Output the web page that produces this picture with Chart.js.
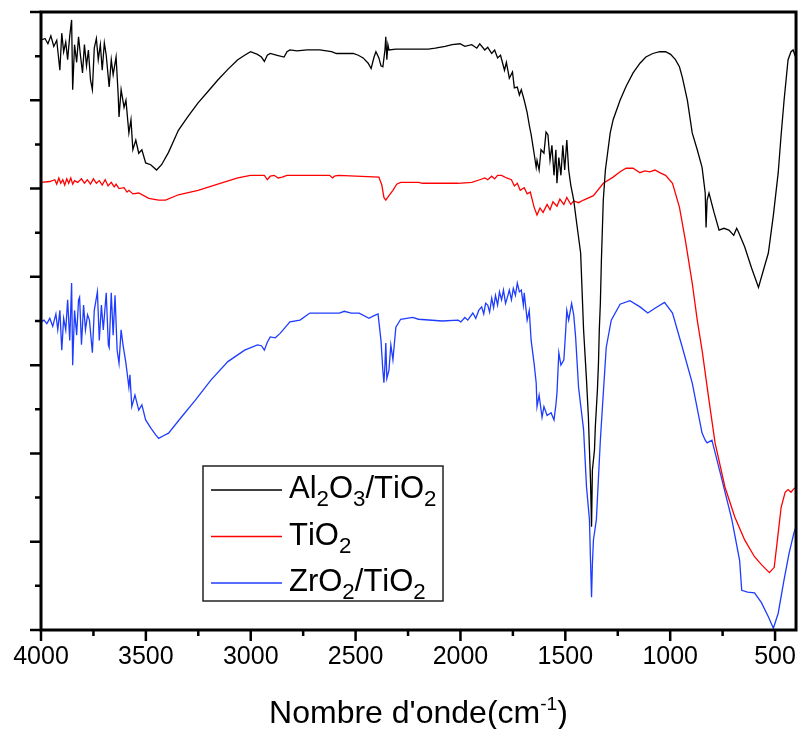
<!DOCTYPE html>
<html>
<head>
<meta charset="utf-8">
<script src="https://cdn.jsdelivr.net/npm/chart.js@4.4.1/dist/chart.umd.min.js"></script>
<style>
  html, body { margin: 0; padding: 0; background: #fff; }
</style>
</head>
<body>
<canvas id="grafico" width="808" height="729"></canvas>
<script>
// Legenda e eixos
const rotulos = ["Al2O3/TiO2", "TiO2", "ZrO2/TiO2"];
const cores = ["#000000", "#ff0000", "#1e3cff"];
const ticksX = [4000, 3500, 3000, 2500, 2000, 1500, 1000, 500];
const ticksXMenores = [3750, 3250, 2750, 2250, 1750, 1250, 750];
const ticksY = [0, 10, 20, 30, 40, 50, 60, 70];
const ticksYMenores = [5, 15, 25, 35, 45, 55, 65];
const tituloX = "Nombre d'onde(cm";
const tituloXExpoente = "-1";

// Al2O3/TiO2 (preto)
const alOnda = [
  4000,3981,3967,3953,3939,3925,3910,3901,3892,3882,
  3873,3863,3854,3849,3840,3830,3821,3812,3802,3793,
  3783,3774,3764,3755,3746,3736,3727,3717,3708,3698,
  3689,3675,3665,3656,3642,3632,3628,3618,3604,3595,
  3581,3571,3562,3548,3534,3519,3501,3477,3449,3425,
  3392,3345,3298,3251,3204,3157,3109,3062,3029,3001,
  2968,2949,2935,2921,2907,2874,2841,2827,2813,2780,
  2732,2671,2615,2591,2511,2487,2464,2440,2426,2412,
  2403,2389,2379,2370,2360,2356,2351,2346,2341,2308,
  2153,2120,2073,2040,2002,1979,1946,1922,1908,1884,
  1870,1851,1837,1823,1809,1790,1781,1767,1752,1743,
  1729,1719,1710,1696,1682,1672,1663,1649,1639,1635,
  1625,1616,1602,1592,1583,1573,1564,1554,1545,1540,
  1531,1521,1512,1503,1493,1484,1474,1460,1446,1427,
  1422,1413,1399,1390,1385,1380,1375,1371,1361,1357,
  1347,1342,1338,1333,1328,1319,1309,1286,1272,1239,
  1210,1177,1144,1116,1083,1050,1022,998,975,956,
  942,918,895,871,848,833,829,824,815,791,
  767,744,720,697,683,673,659,645,612,579,
  555,532,508,485,471,457,438,424,414,405,
  400
];
const alTrans = [
  66.8,67.0,66.4,67.3,66.1,66.8,63.4,67.6,65.5,66.6,
  64.6,67.3,69.1,61.2,66.3,64.3,67.2,65.1,63.1,66.3,
  63.9,65.7,62.3,61.2,65.9,67.0,64.6,66.3,63.4,66.5,
  65.1,61.5,64.6,62.9,64.9,60.6,58.1,61.2,59.2,60.0,
  56.3,57.8,54.4,55.5,54.0,54.4,52.9,52.7,52.1,52.7,
  54.1,56.6,58.2,59.7,61.0,62.3,63.5,64.6,65.1,65.5,
  65.2,64.9,64.4,65.1,65.3,65.1,64.9,65.5,65.7,65.6,
  65.7,65.7,65.5,65.3,65.3,65.1,64.8,64.2,63.6,64.9,
  65.5,64.8,63.9,63.8,65.7,67.2,64.6,66.3,65.7,65.8,
  65.8,65.9,66.1,66.3,66.4,66.1,66.3,65.9,66.4,65.7,
  66.0,65.3,65.7,64.8,65.1,63.4,64.3,62.5,63.2,61.4,
  61.5,60.6,61.2,60.0,58.6,57.2,56.1,54.0,52.4,53.2,
  52.1,54.4,54.0,56.4,56.1,53.2,54.9,51.5,54.4,50.6,
  53.5,51.5,54.9,52.1,55.5,52.1,50.4,48.7,46.1,42.7,
  39.6,34.0,28.3,24.1,20.4,17.0,11.7,18.1,20.4,23.0,
  27.2,30.2,34.0,37.0,41.9,48.7,52.1,56.3,57.8,60.0,
  61.6,63.1,64.2,64.9,65.3,65.5,65.5,65.2,64.6,63.8,
  62.6,60.0,56.3,54.4,52.4,49.5,45.6,48.7,49.5,47.3,
  45.3,45.5,45.3,44.7,45.5,45.0,44.2,43.4,41.0,38.8,
  40.8,42.7,47.0,51.8,56.1,60.0,64.6,65.5,65.7,65.1,
  64.8
];

// TiO2 (vermelho)
const tiOnda = [
  4000,3958,3934,3925,3915,3906,3896,3887,3877,3868,
  3858,3849,3840,3825,3807,3793,3779,3764,3750,3736,
  3722,3708,3694,3680,3665,3651,3642,3628,3604,3590,
  3581,3562,3534,3486,3439,3406,3345,3251,3157,3062,
  3001,2935,2921,2907,2888,2869,2850,2827,2624,2610,
  2601,2582,2389,2375,2365,2356,2341,2322,2304,2285,
  2200,2181,2012,1946,1908,1884,1870,1851,1837,1823,
  1804,1780,1757,1743,1729,1715,1696,1682,1667,1649,
  1635,1621,1606,1587,1573,1559,1540,1526,1507,1493,
  1474,1460,1437,1413,1366,1319,1272,1239,1210,1177,
  1144,1121,1097,1073,1050,1022,989,956,928,895,
  871,848,815,786,739,692,645,598,565,527,
  504,485,471,452,438,424,414,400
];
const tiTrans = [
  50.7,50.8,51.0,50.5,51.2,50.6,51.0,50.4,51.1,50.6,
  51.2,50.5,50.9,50.7,51.1,50.6,51.0,50.5,51.1,50.6,
  50.9,50.4,51.0,50.3,50.7,50.2,50.5,50.0,50.1,49.6,
  49.8,49.4,49.5,48.9,48.7,48.7,49.3,49.8,50.5,51.2,
  51.5,51.5,51.0,51.4,51.5,51.2,51.3,51.5,51.5,51.2,
  51.4,51.5,51.3,50.4,49.0,48.7,49.2,49.8,50.5,50.7,
  50.7,50.6,50.6,50.7,51.0,51.2,51.0,51.4,51.1,51.5,
  51.5,51.2,51.0,50.3,50.6,49.8,50.1,49.4,49.6,47.9,
  47.0,47.8,47.3,48.2,47.6,48.5,48.0,48.8,48.2,49.0,
  48.2,48.6,48.4,48.7,49.2,50.6,51.3,51.9,52.3,52.3,
  51.8,52.0,51.9,52.1,51.8,51.5,50.6,47.9,44.2,39.3,
  35.1,31.7,26.0,21.2,16.2,12.8,10.2,8.3,7.4,6.5,
  7.1,11.0,13.9,15.6,15.9,15.6,15.9,16.2
];

// ZrO2/TiO2 (azul)
const zrOnda = [
  4000,3986,3972,3958,3944,3929,3920,3910,3901,3892,
  3882,3873,3863,3854,3849,3840,3830,3821,3816,3807,
  3797,3788,3778,3769,3755,3746,3731,3722,3712,3703,
  3689,3679,3675,3665,3656,3647,3637,3628,3618,3609,
  3595,3581,3576,3567,3552,3534,3519,3501,3477,3453,
  3439,3416,3392,3331,3265,3190,3109,3029,2968,2949,
  2935,2921,2907,2883,2860,2813,2765,2718,2638,2577,
  2554,2521,2483,2436,2412,2393,2379,2370,2365,2360,
  2356,2351,2341,2332,2322,2308,2285,2228,2200,2087,
  2012,1998,1979,1965,1941,1927,1913,1899,1889,1880,
  1870,1861,1851,1842,1833,1823,1814,1804,1795,1785,
  1776,1767,1757,1748,1738,1729,1719,1710,1700,1696,
  1682,1672,1663,1649,1639,1635,1625,1611,1602,1587,
  1568,1554,1545,1540,1531,1521,1507,1498,1493,1484,
  1470,1460,1451,1437,1413,1399,1385,1380,1375,1371,
  1366,1352,1333,1319,1305,1281,1239,1192,1144,1107,
  1069,1027,989,942,895,848,833,824,801,753,
  706,669,659,631,598,565,532,508,485,457,
  433,410,400
];
const zrTrans = [
  34.9,35.1,34.7,35.3,34.4,35.8,34.0,36.2,31.7,35.3,
  34.0,37.4,32.8,39.3,30.0,36.2,33.4,37.4,37.7,32.3,
  36.8,34.0,35.7,35.1,31.4,36.2,38.3,32.8,36.8,34.0,
  38.2,32.3,32.0,38.2,33.4,37.9,31.7,30.2,34.0,32.3,
  30.2,27.5,28.9,25.3,26.6,24.9,25.5,23.8,22.9,22.1,
  21.7,22.0,22.3,24.1,26.0,28.3,30.4,31.7,32.3,32.2,
  31.7,32.6,33.2,33.1,33.6,34.9,35.1,35.9,35.9,35.9,
  36.1,35.9,35.9,35.3,35.6,35.8,32.8,29.4,28.0,30.0,
  32.5,28.5,29.4,32.3,30.6,34.3,35.2,35.4,35.2,35.0,
  35.1,34.9,35.4,35.1,35.9,35.3,36.2,36.6,35.8,37.0,
  36.8,36.0,37.6,36.5,37.9,36.8,38.3,37.4,38.5,37.0,
  37.7,38.5,37.4,38.7,37.9,39.3,38.3,38.5,36.8,38.2,
  35.1,36.2,32.8,30.2,28.0,25.3,26.6,24.1,25.3,24.3,
  24.6,23.8,25.5,26.8,31.4,30.0,30.6,34.0,36.2,35.1,
  37.0,35.7,33.2,27.5,22.7,16.2,12.5,7.9,3.7,7.4,
  10.2,12.5,21.5,26.8,32.0,35.1,36.9,37.3,36.6,35.9,
  36.5,37.1,35.9,32.0,28.0,22.3,21.5,21.2,21.5,17.0,
  12.5,7.9,4.5,4.3,4.2,3.1,1.5,0.2,1.9,5.7,
  8.7,11.0,11.7
];

const fonte = "'Liberation Sans', Arial, sans-serif";

function pontos(ondas, valores) {
  return ondas.map((x, i) => ({ x: x, y: valores[i] }));
}

// escreve formula quimica com os numeros em subscrito
function textoQuimico(ctx, texto, x, y, tam) {
  let cx = x;
  for (const ch of texto) {
    if (/[0-9]/.test(ch)) {
      ctx.font = `${tam * 0.72}px ${fonte}`;
      ctx.fillText(ch, cx, y + tam * 0.27);
    } else {
      ctx.font = `${tam}px ${fonte}`;
      ctx.fillText(ch, cx, y);
    }
    cx += ctx.measureText(ch).width;
  }
}

// moldura, ticks maiores/menores, titulo do eixo
const molduraPlugin = {
  id: "moldura",
  afterDraw(chart) {
    const ctx = chart.ctx;
    const a = chart.chartArea;
    const sx = chart.scales.x;
    const sy = chart.scales.y;
    ctx.save();
    ctx.strokeStyle = "#000";
    ctx.lineWidth = 3;
    ctx.strokeRect(a.left, a.top, a.right - a.left, a.bottom - a.top);

    ctx.lineWidth = 2.5;
    ctx.beginPath();
    ticksX.forEach(v => {
      const px = sx.getPixelForValue(v);
      ctx.moveTo(px, a.bottom); ctx.lineTo(px, a.bottom + 11);
    });
    ticksXMenores.forEach(v => {
      const px = sx.getPixelForValue(v);
      ctx.moveTo(px, a.bottom); ctx.lineTo(px, a.bottom + 6);
    });
    ticksY.forEach(v => {
      const py = sy.getPixelForValue(v);
      ctx.moveTo(a.left, py); ctx.lineTo(a.left - 11, py);
    });
    ticksYMenores.forEach(v => {
      const py = sy.getPixelForValue(v);
      ctx.moveTo(a.left, py); ctx.lineTo(a.left - 6, py);
    });
    ctx.stroke();

    // titulo do eixo x com expoente
    ctx.fillStyle = "#000";
    ctx.textBaseline = "alphabetic";
    ctx.textAlign = "left";
    const tam = 32;
    ctx.font = `${tam}px ${fonte}`;
    const w1 = ctx.measureText(tituloX).width;
    const w3 = ctx.measureText(")").width;
    ctx.font = `${tam * 0.6}px ${fonte}`;
    const w2 = ctx.measureText(tituloXExpoente).width;
    const base = 723;
    let x0 = (a.left + a.right) / 2 - (w1 + w2 + w3) / 2;
    ctx.font = `${tam}px ${fonte}`;
    ctx.fillText(tituloX, x0, base);
    ctx.font = `${tam * 0.6}px ${fonte}`;
    ctx.fillText(tituloXExpoente, x0 + w1, base - 13);
    ctx.font = `${tam}px ${fonte}`;
    ctx.fillText(")", x0 + w1 + w2, base);
    ctx.restore();
  }
};

// legenda em caixa com subscritos
const legendaPlugin = {
  id: "legendaQuimica",
  afterDatasetsDraw(chart) {
    const ctx = chart.ctx;
    const caixa = { x: 203, y: 466, w: 240, h: 135 };
    ctx.save();
    ctx.fillStyle = "#fff";
    ctx.fillRect(caixa.x, caixa.y, caixa.w, caixa.h);
    ctx.strokeStyle = "#222";
    ctx.lineWidth = 1.5;
    ctx.strokeRect(caixa.x, caixa.y, caixa.w, caixa.h);
    chart.data.datasets.forEach((ds, i) => {
      const yl = caixa.y + 24 + i * 46.5;
      ctx.strokeStyle = ds.borderColor;
      ctx.lineWidth = 1.5;
      ctx.beginPath();
      ctx.moveTo(caixa.x + 8, yl);
      ctx.lineTo(caixa.x + 79, yl);
      ctx.stroke();
      ctx.fillStyle = "#000";
      ctx.textBaseline = "alphabetic";
      textoQuimico(ctx, ds.label, caixa.x + 86, yl + 8, 31);
    });
    ctx.restore();
  }
};

const ctx = document.getElementById("grafico").getContext("2d");

new Chart(ctx, {
  type: "line",
  data: {
    datasets: [
      { label: rotulos[0], data: pontos(alOnda, alTrans), borderColor: cores[0] },
      { label: rotulos[1], data: pontos(tiOnda, tiTrans), borderColor: cores[1] },
      { label: rotulos[2], data: pontos(zrOnda, zrTrans), borderColor: cores[2] }
    ]
  },
  options: {
    responsive: false,
    animation: false,
    devicePixelRatio: 1,
    layout: { padding: { top: 12, right: 3, left: 0, bottom: 0 } },
    elements: {
      point: { radius: 0 },
      line: { borderWidth: 1.3, tension: 0, fill: false }
    },
    plugins: {
      legend: { display: false },
      tooltip: { enabled: false }
    },
    scales: {
      x: {
        type: "linear",
        reverse: true,
        min: 400,
        max: 4000,
        afterBuildTicks: s => { s.ticks = ticksX.map(v => ({ value: v })); },
        afterFit: s => { s.height = 99; },
        ticks: {
          color: "#000",
          font: { family: fonte, size: 25 },
          padding: 12,
          maxRotation: 0,
          autoSkip: false,
          callback: v => String(v)
        },
        grid: { display: false, drawTicks: false },
        border: { display: false }
      },
      y: {
        min: 0,
        max: 70,
        afterFit: s => { s.width = 41; },
        ticks: { display: false },
        grid: { display: false, drawTicks: false },
        border: { display: false }
      }
    }
  },
  plugins: [legendaPlugin, molduraPlugin]
});
</script>
</body>
</html>
